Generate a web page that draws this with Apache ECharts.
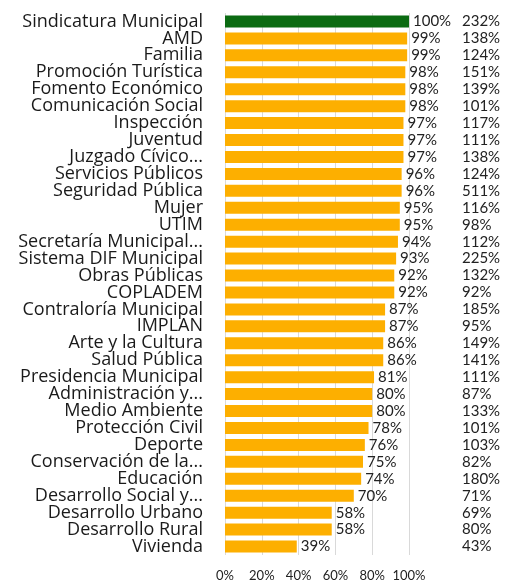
<!DOCTYPE html>
<html>
<head>
<meta charset="utf-8">
<script src="https://cdn.jsdelivr.net/npm/echarts@6/dist/echarts.min.js"></script>
<style>html,body{margin:0;padding:0;background:#fff}#c{width:518px;height:587px}</style>
</head>
<body>
<div id="c"></div>
<script>
const categories = ["Sindicatura Municipal","AMD","Familia","Promoción Turística","Fomento Económico","Comunicación Social","Inspección","Juventud","Juzgado Cívico...","Servicios Públicos","Seguridad Pública","Mujer","UTIM","Secretaría Municipal...","Sistema DIF Municipal","Obras Públicas","COPLADEM","Contraloría Municipal","IMPLAN","Arte y la Cultura","Salud Pública","Presidencia Municipal","Administración y...","Medio Ambiente","Protección Civil","Deporte","Conservación de la...","Educación","Desarrollo Social y...","Desarrollo Urbano","Desarrollo Rural","Vivienda"];
const compliance = [100,99,99,98,98,98,97,97,97,96,96,95,95,94,93,92,92,87,87,86,86,81,80,80,78,76,75,74,70,58,58,39];
const secondValues = [232,138,124,151,139,101,117,111,138,124,511,116,98,112,225,132,92,185,95,149,141,111,87,133,101,103,82,180,71,69,80,43];
const xTicks = [0,20,40,60,80,100];

const chart = echarts.init(document.getElementById('c'));
const font = 'Lato, "Open Sans", sans-serif';
chart.setOption({
  animation: false,
  grid: {left: 225, right: 109, top: 13, bottom: 32, containLabel: false},
  xAxis: {
    type: 'value', min: xTicks[0], max: xTicks[xTicks.length-1], interval: 20,
    axisLine: {show: false}, axisTick: {show: false},
    splitLine: {show: true, lineStyle: {color: '#d9d9d9', width: 1}},
    axisLabel: {formatter: '{value}%', fontFamily: font, fontSize: 13, color: '#222', margin: 14}
  },
  yAxis: [{
    type: 'category', data: categories, inverse: true,
    axisLine: {show: false}, axisTick: {show: false},
    axisLabel: {fontFamily: '"Open Sans", sans-serif', fontSize: 18, color: '#1a1a1a', margin: 22, interval: 0}
  }, {
    type: 'category', data: secondValues.map(v => v + '%'), inverse: true, position: 'right',
    axisLine: {show: false}, axisTick: {show: false},
    axisLabel: {fontFamily: font, fontSize: 15, color: '#222', margin: 53, interval: 0}
  }],
  series: [{
    type: 'bar', data: compliance, barWidth: 12, yAxisIndex: 0,
    itemStyle: {color: p => p.dataIndex === 0 ? '#0b6b12' : '#fdaf00'},
    label: {show: true, position: 'right', distance: 4, formatter: '{c}%', fontFamily: font, fontSize: 15, color: '#222'}
  }]
});
</script>
</body>
</html>
